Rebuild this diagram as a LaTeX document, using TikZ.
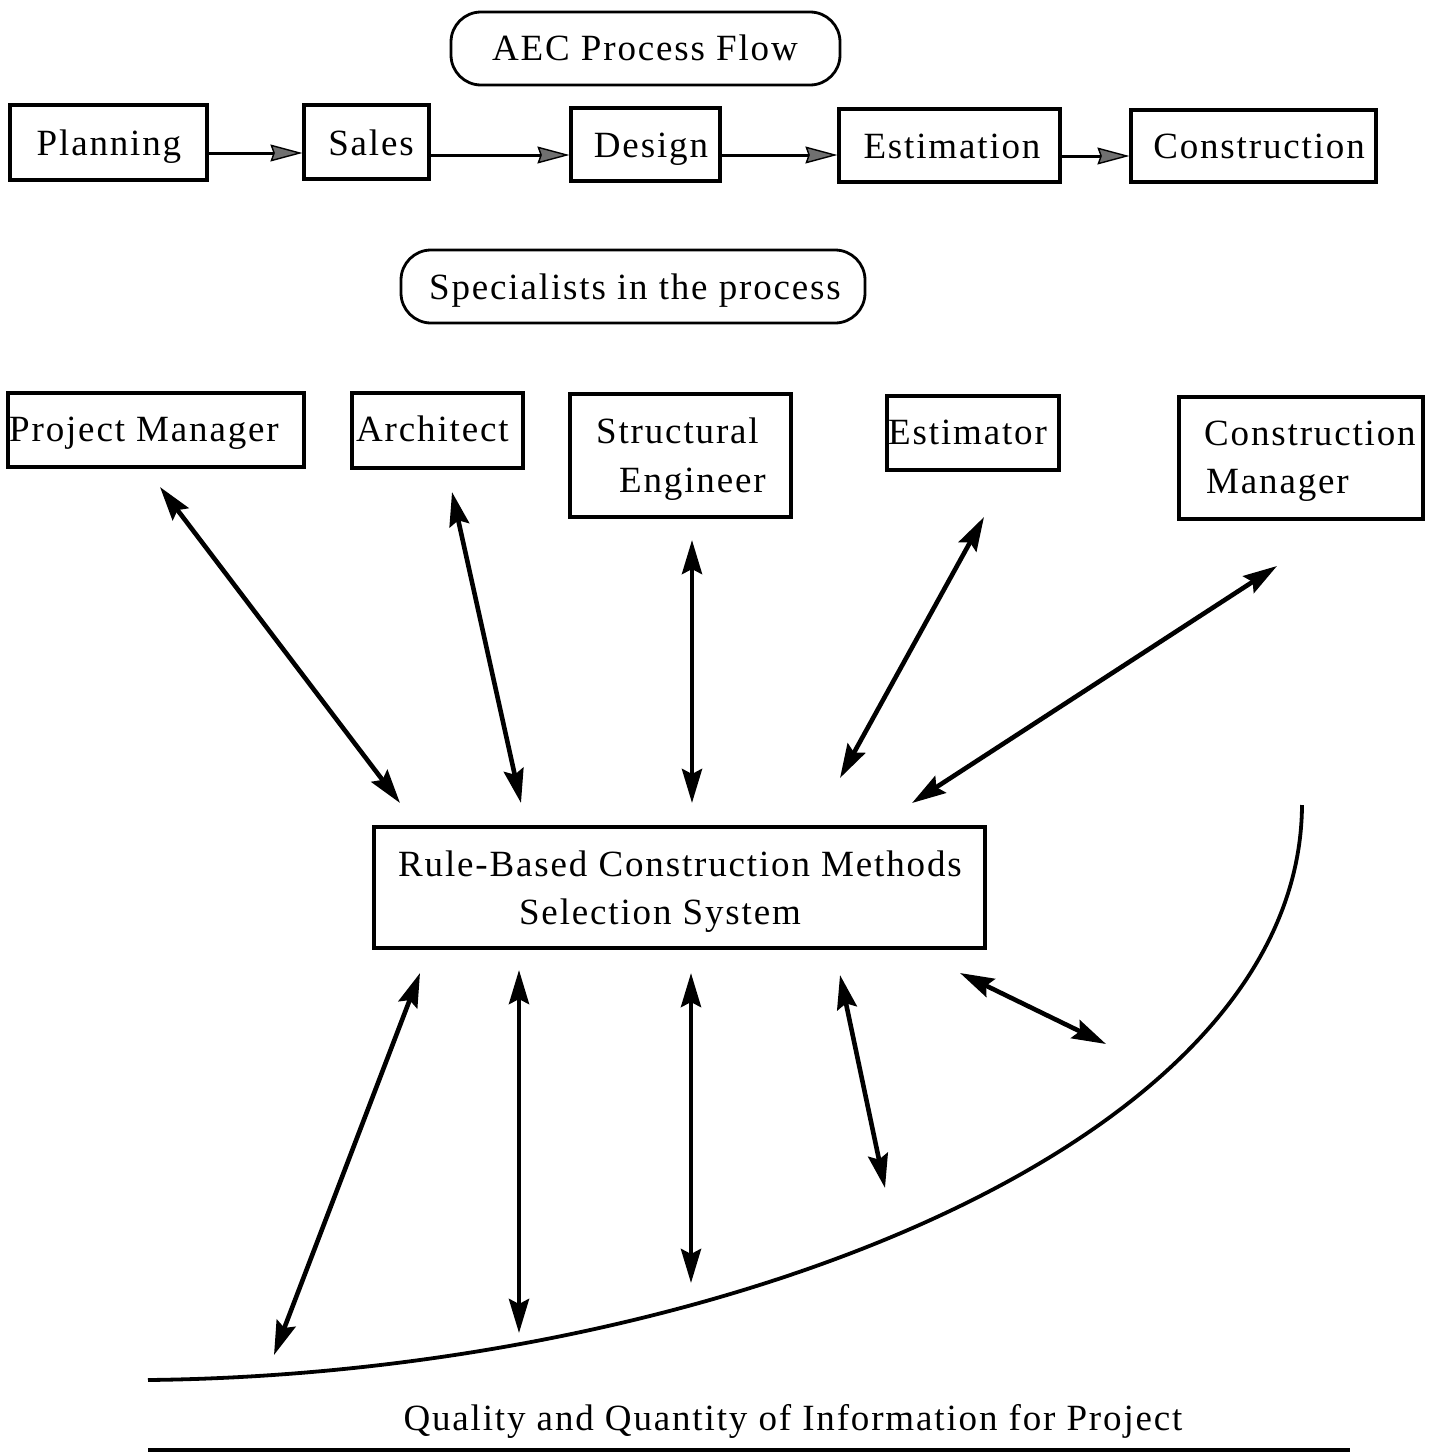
\documentclass[tikz,border=0pt]{standalone}
\usepackage{fontspec}
\setmainfont[LetterSpace=5]{Liberation Serif}
\usetikzlibrary{arrows.meta}
\definecolor{headgray}{RGB}{112,112,112}
\begin{document}
\begin{tikzpicture}[x=1pt,y=-1pt,
  every node/.style={font=\fontsize{37}{48}\selectfont},
  box/.style={draw,line width=3.2pt,inner sep=0pt,minimum height=74pt},
  pill/.style={draw,line width=2.8pt,rounded corners=30pt,inner sep=0pt,minimum height=73pt},
  label/.style={anchor=base west,inner sep=0pt},
  clabel/.style={anchor=base,inner sep=0pt},
  flow/.style={line width=3pt,-{Stealth[length=32pt,width=17pt,inset=3pt,fill=headgray,line width=1.4pt]}},
  link/.style={line width=4.6pt,{Stealth[length=34pt,width=20pt,inset=5pt]}-{Stealth[length=34pt,width=20pt,inset=5pt]}},
  curve/.style={line width=3.8pt}]
\useasboundingbox (0,0) rectangle (1431,1456);

% process flow
\node[pill,minimum width=389pt] (aec) at (645.5,48.5) {};
\node[clabel] (aect) at (645,60) {AEC Process Flow};
\node[box,minimum width=197pt,minimum height=75pt] (plan) at (108.5,142.5) {};
\node[clabel] (plant) at (109,155) {Planning};
\node[box,minimum width=125pt] (sales) at (366.5,142) {};
\node[clabel] (salest) at (371,155) {Sales};
\node[box,minimum width=149pt,minimum height=73pt] (design) at (645.5,144.5) {};
\node[clabel] (designt) at (651,157) {Design};
\node[box,minimum width=221pt,minimum height=73pt] (est) at (949.5,145.5) {};
\node[clabel] (estt) at (952,158) {Estimation};
\node[box,minimum width=245pt,minimum height=72pt] (cons) at (1253.5,146) {};
\node[clabel] (const) at (1259,158) {Construction};

\draw[flow] (plan.east |- 0,153) -- (sales.west |- 0,153);
\draw[flow] (sales.east |- 0,155) -- (design.west |- 0,155);
\draw[flow] (design.east |- 0,155) -- (est.west |- 0,155);
\draw[flow] (est.east |- 0,156) -- (cons.west |- 0,156);

% specialists
\node[pill,minimum width=464pt] (spec) at (633,286.5) {};
\node[clabel] (spect) at (635,299) {Specialists in the process};

\node[box,minimum width=296pt] (pm) at (156,430) {};
\node[label] (pmt) at (9,441) {Project Manager};
\node[box,minimum width=171pt,minimum height=75pt] (arch) at (437.5,430.5) {};
\node[label] (archt) at (356,441) {Architect};
\node[box,minimum width=221pt,minimum height=123pt] (struct) at (680.5,455.5) {};
\node[label] (structt1) at (596,443) {Structural};
\node[label] (structt2) at (619,492) {Engineer};
\node[box,minimum width=172pt] (estor) at (973,433) {};
\node[label] (estort) at (888,444) {Estimator};
\node[box,minimum width=244pt,minimum height=122pt] (cm) at (1301,458) {};
\node[label] (cmt1) at (1204,445) {Construction};
\node[label] (cmt2) at (1206,493) {Manager};

% central system
\node[box,minimum width=611pt,minimum height=121pt] (rb) at (679.5,887.5) {};
\node[clabel] (rbt1) at (680,876) {Rule-Based Construction Methods};
\node[clabel] (rbt2) at (660,924) {Selection System};

% free ends of the links
\coordinate (a1) at (160,487);  \coordinate (b1) at (400,803);
\coordinate (a2) at (452,492);  \coordinate (b2) at (521,803);
\coordinate (a3) at (692,540);  \coordinate (b3) at (692,803);
\coordinate (a4) at (984,517);  \coordinate (b4) at (840,778);
\coordinate (a5) at (1277,566); \coordinate (b5) at (912,803);
\coordinate (c1) at (420,973);  \coordinate (d1) at (274,1355);
\coordinate (c2) at (519,970);  \coordinate (d2) at (519,1333);
\coordinate (c3) at (691,973);  \coordinate (d3) at (691,1283);
\coordinate (c4) at (840,975);  \coordinate (d4) at (885,1188);
\coordinate (c5) at (960,973);  \coordinate (d5) at (1106,1044);

\foreach \i in {1,...,5} {
  \draw[link] (a\i) -- (b\i);
  \draw[link] (c\i) -- (d\i);
}

% information curve and axis
\coordinate (q0) at (148,1380);
\coordinate (q1) at (1302,805);
\draw[curve] (q0) .. controls (700,1374) and (1300,1150) .. (q1);
\node[clabel] (info) at (793,1430) {Quality and Quantity of Information for Project};
\coordinate (h0) at (148,1450);
\coordinate (h1) at (1350,1450);
\draw[line width=4.6pt] (h0) -- (h1);
\end{tikzpicture}
\end{document}
